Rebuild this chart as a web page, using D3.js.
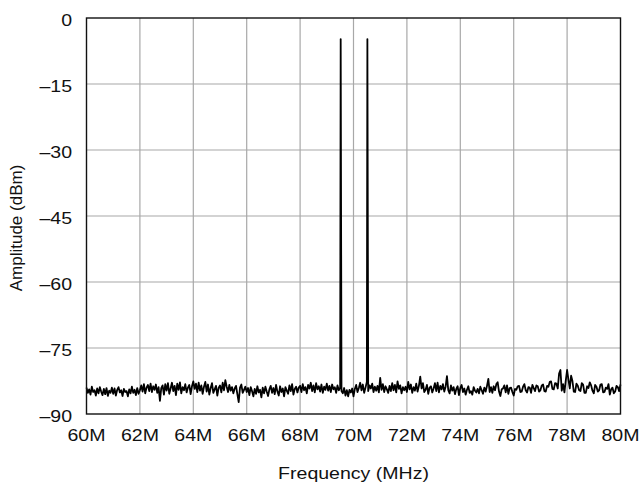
<!DOCTYPE html>
<html>
<head>
<meta charset="utf-8">
<script src="https://cdn.jsdelivr.net/npm/d3@7"></script>
<style>
  body { margin: 0; background: #fff; }
  text { font-family: "Liberation Sans", Arial, Helvetica, sans-serif; fill: #111; }
</style>
</head>
<body>
<script>
// noise floor, 60.00 MHz to 80.00 MHz in 0.05 MHz steps (dBm), one row per MHz
const freqStart = 60;
const freqStep = 0.05;
const noiseDbm = [
  -84.0,-85.2,-84.4,-85.6,-83.8,-85.0,-84.6,-85.8,-84.2,-85.3,-83.9,-84.9,-85.7,-84.3,-85.5,-84.1,-85.9,-84.7,-85.2,-84.0,
  -85.4,-84.2,-85.8,-84.5,-83.9,-85.1,-84.6,-85.9,-84.3,-85.0,-84.8,-86.0,-84.4,-85.3,-83.8,-85.2,-84.5,-85.7,-84.1,-85.4,
  -84.6,-83.5,-84.9,-83.2,-85.3,-84.0,-83.4,-84.8,-83.1,-85.0,-83.7,-84.5,-83.3,-85.2,-83.9,-87.0,-84.1,-83.5,-85.6,-83.2,
  -84.7,-83.0,-85.4,-84.2,-82.9,-84.8,-83.6,-85.7,-83.1,-84.5,-82.8,-85.3,-83.9,-84.6,-83.2,-85.1,-84.0,-83.4,-85.5,-83.7,
  -82.6,-84.3,-83.1,-85.0,-82.9,-84.7,-83.5,-85.4,-83.8,-82.7,-84.9,-83.3,-85.6,-84.1,-83.0,-85.2,-84.4,-83.6,-85.8,-84.0,
  -83.5,-85.1,-82.9,-84.6,-82.3,-83.8,-85.0,-83.4,-84.7,-83.9,-85.3,-84.2,-83.6,-85.5,-87.3,-84.0,-83.3,-85.2,-84.5,-83.8,
  -85.0,-84.1,-85.7,-83.9,-84.8,-86.0,-84.3,-85.4,-83.7,-85.1,-84.5,-86.2,-84.0,-85.3,-83.8,-84.9,-85.9,-84.4,-83.6,-85.2,
  -84.1,-85.5,-83.4,-84.9,-85.8,-83.7,-85.0,-84.2,-86.0,-83.9,-84.7,-85.4,-83.5,-84.8,-83.2,-85.6,-84.3,-83.8,-85.1,-84.0,
  -83.6,-85.0,-83.2,-84.6,-83.9,-85.3,-83.4,-84.2,-82.9,-84.8,-83.5,-85.1,-83.0,-84.4,-83.7,-84.9,-83.3,-85.2,-83.8,-84.5,
  -83.1,-84.7,-83.6,-85.0,-83.3,-84.4,-83.9,-85.2,-83.5,-84.6,-84.0,-84.8,-85.3,-84.1,-85.8,-84.6,-86.0,-84.5,-85.1,-84.2,
  -86.0,-84.3,-83.4,-85.0,-84.1,-82.9,-84.6,-83.3,-85.2,-84.0,-82.7,-84.8,-83.5,-84.2,-83.1,-85.0,-83.8,-84.7,-83.6,-85.1,
  -81.8,-84.5,-83.2,-85.0,-83.7,-84.4,-85.2,-83.6,-84.8,-83.0,-84.6,-83.4,-85.1,-82.6,-84.3,-83.5,-85.3,-83.9,-84.6,-83.8,
  -85.0,-82.7,-84.4,-83.3,-85.2,-83.9,-84.7,-83.1,-84.9,-83.6,-81.5,-84.2,-83.0,-85.0,-84.5,-83.4,-85.4,-84.0,-83.7,-85.1,
  -84.2,-83.0,-84.8,-82.9,-85.1,-83.6,-84.4,-83.2,-84.9,-83.8,-81.4,-84.6,-85.3,-83.5,-84.7,-83.9,-85.5,-84.3,-83.7,-85.7,
  -84.1,-83.4,-85.0,-84.2,-85.6,-84.5,-83.7,-85.2,-84.8,-85.6,-83.9,-84.7,-85.1,-84.3,-85.3,-83.8,-84.6,-85.4,-84.0,-84.9,
  -83.6,-82.0,-85.0,-83.9,-85.2,-83.7,-84.6,-83.2,-82.8,-84.9,-85.9,-84.4,-84.2,-83.5,-85.1,-83.5,-85.4,-84.1,-84.0,-85.0,
  -85.8,-84.3,-84.5,-83.7,-83.6,-85.0,-84.9,-83.8,-83.2,-84.6,-85.1,-83.9,-84.0,-85.2,-83.4,-84.1,-84.8,-83.5,-83.7,-84.9,
  -84.6,-83.5,-83.3,-84.8,-84.9,-83.6,-83.8,-82.7,-82.6,-84.3,-84.4,-83.0,-83.1,-84.2,-80.8,-80.0,-84.7,-83.2,-85.1,-82.4,
  -80.0,-82.2,-84.2,-81.3,-82.5,-84.9,-85.0,-83.1,-83.6,-84.6,-84.8,-83.0,-83.3,-85.2,-85.2,-83.7,-84.1,-82.8,-83.5,-84.7,
  -85.3,-83.4,-83.8,-84.9,-84.6,-83.3,-83.2,-85.1,-85.0,-84.0,-84.3,-83.2,-85.6,-84.4,-84.0,-85.3,-84.9,-83.6,-83.9,-84.8,
  -83.3
];
// two-tone input
const toneFreqs = [69.52, 70.52];
const toneDbm = [-4.8, -4.8];

const xTicks = [60, 62, 64, 66, 68, 70, 72, 74, 76, 78, 80];
const yTicks = [0, -15, -30, -45, -60, -75, -90];

const width = 641, height = 483;
const margin = { top: 18, right: 20.5, bottom: 69, left: 86.5 };
const stretch = 1.15; // horizontal text stretch seen in the original

const svg = d3.select("body").append("svg")
  .attr("width", width)
  .attr("height", height);

const x = d3.scaleLinear().domain([60, 80]).range([margin.left, width - margin.right]);
const y = d3.scaleLinear().domain([-90, 0]).range([height - margin.bottom, margin.top]);

// build trace
let trace = noiseDbm.map((v, i) => ({ f: freqStart + i * freqStep, db: v }));
toneFreqs.forEach((f, i) => trace.push({ f: f, db: toneDbm[i] }));
trace.sort((a, b) => a.f - b.f);

// grid
svg.append("g")
  .selectAll("line")
  .data(xTicks.slice(1, -1))
  .enter().append("line")
  .attr("x1", d => x(d)).attr("x2", d => x(d))
  .attr("y1", y(0)).attr("y2", y(-90))
  .attr("stroke", "#a8a8a8")
  .attr("stroke-width", 1.2);

svg.append("g")
  .selectAll("line")
  .data(yTicks.slice(1, -1))
  .enter().append("line")
  .attr("x1", x(60)).attr("x2", x(80))
  .attr("y1", d => y(d)).attr("y2", d => y(d))
  .attr("stroke", "#a8a8a8")
  .attr("stroke-width", 1.2);

// trace
const line = d3.line().x(d => x(d.f)).y(d => y(d.db));
svg.append("path")
  .datum(trace)
  .attr("fill", "none")
  .attr("stroke", "#000")
  .attr("stroke-width", 1.8)
  .attr("stroke-linejoin", "round")
  .attr("d", line);

// frame
svg.append("rect")
  .attr("x", x(60)).attr("y", y(0))
  .attr("width", x(80) - x(60))
  .attr("height", y(-90) - y(0))
  .attr("fill", "none")
  .attr("stroke", "#111")
  .attr("stroke-width", 1.4);

// tick labels
svg.append("g")
  .selectAll("text")
  .data(xTicks)
  .enter().append("text")
  .attr("transform", d => `translate(${x(d)},440.5) scale(${stretch},1)`)
  .attr("text-anchor", "middle")
  .style("font-size", "17px")
  .text(d => d + "M");

svg.append("g")
  .selectAll("text")
  .data(yTicks)
  .enter().append("text")
  .attr("transform", d => `translate(72,${y(d) + 8}) scale(${stretch},1)`)
  .attr("text-anchor", "end")
  .style("font-size", "17px")
  .text(d => d < 0 ? "\u2013" + Math.abs(d) : String(d));

// axis titles
svg.append("text")
  .attr("transform", `translate(${(x(60) + x(80)) / 2},479) scale(${stretch},1)`)
  .attr("text-anchor", "middle")
  .style("font-size", "17px")
  .text("Frequency (MHz)");

svg.append("text")
  .attr("transform", `translate(22,${(y(0) + y(-90)) / 2 + 12}) rotate(-90)`)
  .attr("text-anchor", "middle")
  .style("font-size", "17px")
  .text("Amplitude (dBm)");
</script>
</body>
</html>
